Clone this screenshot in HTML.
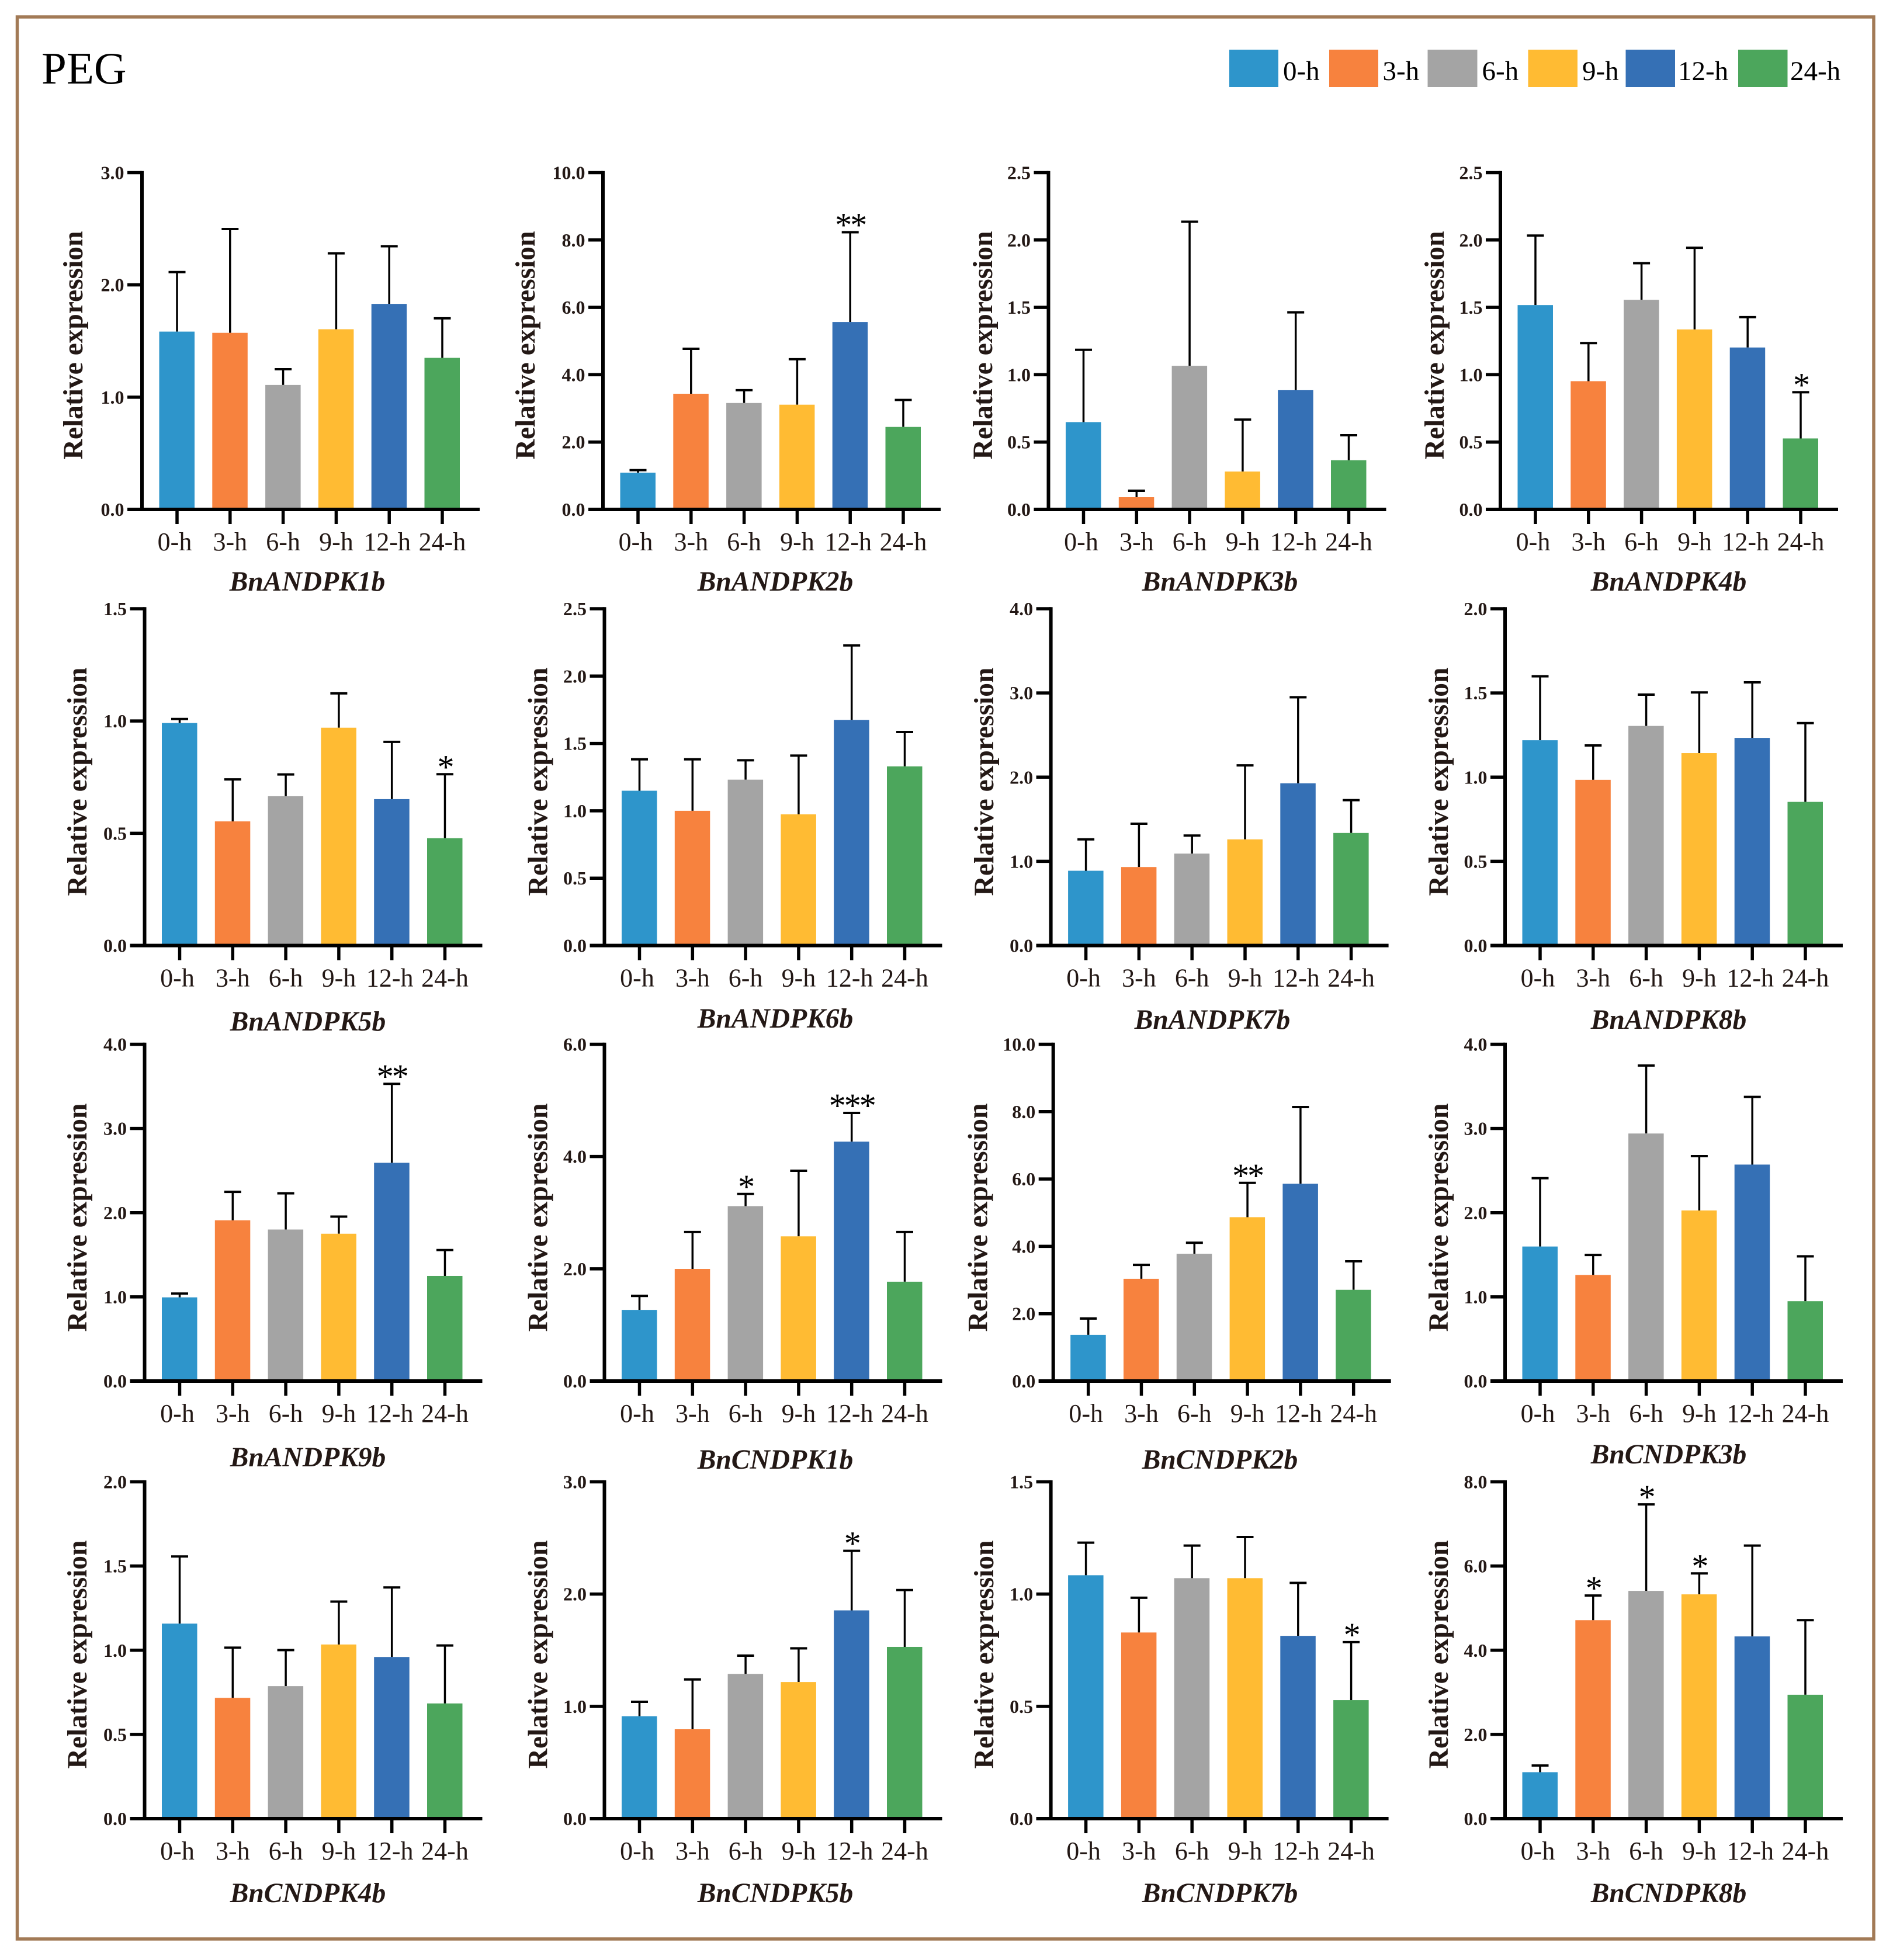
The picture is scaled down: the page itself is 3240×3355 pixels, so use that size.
<!DOCTYPE html>
<html lang="en">
<head>
<meta charset="utf-8">
<title>PEG relative expression</title>
<style>
html,body{margin:0;padding:0;background:#fff;}
svg{display:block;font-family:"Liberation Serif",serif;}
</style>
</head>
<body>
<svg id="figure" xmlns="http://www.w3.org/2000/svg" width="3240" height="3355" viewBox="0 0 3240 3355">
  <rect x="0" y="0" width="3240" height="3355" fill="#ffffff"/>
  <rect x="29.5" y="29" width="3177.5" height="3290" fill="none" stroke="#A27A56" stroke-width="5.5"/>
  <text x="71" y="143" font-size="77" fill="#000">PEG</text>
  <g font-size="47" fill="#000">
    <g><rect x="2104" y="85" width="84" height="64" fill="#2E95CB"/><text x="2196" y="137">0-h</text></g>
    <g><rect x="2275" y="85" width="84" height="64" fill="#F7823E"/><text x="2366.5" y="137">3-h</text></g>
    <g><rect x="2443.5" y="85" width="85" height="64" fill="#A4A4A4"/><text x="2536.5" y="137">6-h</text></g>
    <g><rect x="2615.5" y="85" width="84.5" height="64" fill="#FFBB33"/><text x="2708" y="137">9-h</text></g>
    <g><rect x="2782.5" y="85" width="84.5" height="64" fill="#3570B5"/><text x="2872" y="137">12-h</text></g>
    <g><rect x="2975" y="85" width="84.5" height="64" fill="#4CA65C"/><text x="3064" y="137">24-h</text></g>
  </g>
</svg>
<script>
// ---------- chart data ----------
const categories = ["0-h", "3-h", "6-h", "9-h", "12-h", "24-h"];
const geneNames = ["BnANDPK1b","BnANDPK2b","BnANDPK3b","BnANDPK4b","BnANDPK5b","BnANDPK6b","BnANDPK7b","BnANDPK8b","BnANDPK9b","BnCNDPK1b","BnCNDPK2b","BnCNDPK3b","BnCNDPK4b","BnCNDPK5b","BnCNDPK7b","BnCNDPK8b"];

const ticksA1 = ["0.0","1.0","2.0","3.0"];
const ticksA2 = ["0.0","2.0","4.0","6.0","8.0","10.0"];
const ticksA3 = ["0.0","0.5","1.0","1.5","2.0","2.5"];
const ticksA4 = ["0.0","0.5","1.0","1.5","2.0","2.5"];
const ticksA5 = ["0.0","0.5","1.0","1.5"];
const ticksA6 = ["0.0","0.5","1.0","1.5","2.0","2.5"];
const ticksA7 = ["0.0","1.0","2.0","3.0","4.0"];
const ticksA8 = ["0.0","0.5","1.0","1.5","2.0"];
const ticksA9 = ["0.0","1.0","2.0","3.0","4.0"];
const ticksC1 = ["0.0","2.0","4.0","6.0"];
const ticksC2 = ["0.0","2.0","4.0","6.0","8.0","10.0"];
const ticksC3 = ["0.0","1.0","2.0","3.0","4.0"];
const ticksC4 = ["0.0","0.5","1.0","1.5","2.0"];
const ticksC5 = ["0.0","1.0","2.0","3.0"];
const ticksC7 = ["0.0","0.5","1.0","1.5"];
const ticksC8 = ["0.0","2.0","4.0","6.0","8.0"];

const meanA1 = [1.584,1.573,1.109,1.605,1.831,1.350];
const upperA1 = [2.114,2.498,1.249,2.281,2.344,1.702];
const meanA2 = [1.09,3.435,3.16,3.11,5.566,2.45];
const upperA2 = [1.166,4.77,3.54,4.46,8.23,3.25];
const meanA3 = [0.648,0.091,1.066,0.281,0.885,0.365];
const upperA3 = [1.185,0.139,2.136,0.667,1.463,0.551];
const meanA4 = [1.517,0.952,1.556,1.336,1.202,0.527];
const upperA4 = [2.033,1.235,1.828,1.942,1.427,0.870];
const meanA5 = [0.991,0.553,0.665,0.970,0.652,0.478];
const upperA5 = [1.009,0.74,0.762,1.123,0.907,0.763];
const meanA6 = [1.149,1.0,1.231,0.974,1.675,1.33];
const upperA6 = [1.382,1.382,1.375,1.41,2.228,1.585];
const meanA7 = [0.888,0.932,1.092,1.261,1.927,1.337];
const upperA7 = [1.261,1.447,1.306,2.14,2.949,1.727];
const meanA8 = [1.219,0.984,1.304,1.143,1.233,0.853];
const upperA8 = [1.599,1.188,1.49,1.503,1.563,1.321];
const meanA9 = [0.994,1.909,1.80,1.75,2.592,1.249];
const upperA9 = [1.039,2.247,2.23,1.953,3.53,1.556];
const meanC1 = [1.268,1.998,3.116,2.578,4.265,1.77];
const upperC1 = [1.517,2.655,3.333,3.747,4.777,2.655];
const meanC2 = [1.372,3.037,3.78,4.866,5.858,2.71];
const upperC2 = [1.855,3.45,4.107,5.884,8.136,3.555];
const meanC3 = [1.598,1.26,2.94,2.026,2.571,0.949];
const upperC3 = [2.409,1.498,3.748,2.671,3.375,1.481];
const meanC4 = [1.158,0.717,0.787,1.034,0.96,0.684];
const upperC4 = [1.557,1.015,1.001,1.289,1.373,1.028];
const meanC5 = [0.912,0.796,1.289,1.217,1.855,1.53];
const upperC5 = [1.041,1.24,1.452,1.517,2.385,2.036];
const meanC7 = [1.084,0.829,1.071,1.071,0.814,0.528];
const upperC7 = [1.229,0.984,1.216,1.254,1.05,0.786];
const meanC8 = [1.103,4.714,5.41,5.327,4.328,2.943];
const upperC8 = [1.261,5.30,7.464,5.824,6.486,4.714];

const sigA2 = ["","","","","**",""];
const sigA4 = ["","","","","","*"];
const sigA5 = ["","","","","","*"];
const sigA9 = ["","","","","**",""];
const sigC1 = ["","","*","","***",""];
const sigC2 = ["","","","**","",""];
const sigC5 = ["","","","","*",""];
const sigC7 = ["","","","","","*"];
const sigC8 = ["","*","*","*","",""];
const sigNone = ["","","","","",""];

const tickSeries = [ticksA1,ticksA2,ticksA3,ticksA4,ticksA5,ticksA6,ticksA7,ticksA8,ticksA9,ticksC1,ticksC2,ticksC3,ticksC4,ticksC5,ticksC7,ticksC8];
const meanSeries = [meanA1,meanA2,meanA3,meanA4,meanA5,meanA6,meanA7,meanA8,meanA9,meanC1,meanC2,meanC3,meanC4,meanC5,meanC7,meanC8];
const upperSeries = [upperA1,upperA2,upperA3,upperA4,upperA5,upperA6,upperA7,upperA8,upperA9,upperC1,upperC2,upperC3,upperC4,upperC5,upperC7,upperC8];
const sigSeries = [sigNone,sigA2,sigNone,sigA4,sigA5,sigNone,sigNone,sigNone,sigA9,sigC1,sigC2,sigNone,sigNone,sigC5,sigC7,sigC8];

// ---------- layout and drawing ----------
function panelLayout(i) {
  const axisXs = [243,1032,1794.5,2568, 247.5,1034.5,1798.6,2576, 247.5,1034.5,1802.7,2576, 247.5,1034.5,1798.6,2576];
  const rowTops = [295.5,1042,1787.5,2536.5];
  const yTitleXs = [141,915,1698,2471, 148,936.5,1700,2478, 148,936.5,1689.5,2478, 148,936.5,1700,2478];
  const yTitleYs = [591,1338,2084,2832];
  const geneXs = [526,1327,2088,2856, 527,1327,2075,2856, 527,1327,2088,2856, 527,1327,2088,2856];
  const geneYs = [1011,1011,1011,1011, 1764,1759,1761,1761, 2510,2514,2514,2505, 3256,3256,3256,3256];
  const row = Math.floor(i / 4);
  return {
    axisX: axisXs[i], top: rowTops[row], bottom: rowTops[row] + 576.5,
    yTitleX: yTitleXs[i], yTitleY: yTitleYs[row], geneX: geneXs[i], geneY: geneYs[i]
  };
}

const NS = "http://www.w3.org/2000/svg";
const INK = "#231815";
const barColors = ["#2E95CB","#F7823E","#A4A4A4","#FFBB33","#3570B5","#4CA65C"];
const labelShift = [-4,0,0,0,-3.5,0];
const figure = document.getElementById("figure");

function svgEl(tag, attrs, parent) {
  const el = document.createElementNS(NS, tag);
  for (const k in attrs) el.setAttribute(k, attrs[k]);
  parent.appendChild(el);
  return el;
}

function drawPanel(i) {
  const L = panelLayout(i);
  const ticks = tickSeries[i];
  const means = meanSeries[i];
  const uppers = upperSeries[i];
  const sigs = sigSeries[i];
  const yMax = parseFloat(ticks[ticks.length - 1]);
  const yScale = v => L.bottom - (v / yMax) * (L.bottom - L.top);
  const xScale = c => L.axisX + 60 + 90.8 * c;

  const g = svgEl("g", {}, figure);
  
  

  categories.forEach((cat, c) => {
    const cx = xScale(c);
    const stem = svgEl("line", {x1: cx, x2: cx, y1: yScale(uppers[c]), y2: yScale(means[c]), stroke: "#000", "stroke-width": 3.5}, g);
    
    
    const cap = svgEl("line", {x1: cx - 14.5, x2: cx + 14.5, y1: yScale(uppers[c]), y2: yScale(uppers[c]), stroke: "#000", "stroke-width": 4}, g);
    
    
    const bar = svgEl("rect", {x: cx - 30.5, y: yScale(means[c]), width: 60.5, height: L.bottom - yScale(means[c]), fill: barColors[c]}, g);
    
    
    if (sigs[c]) {
      const star = svgEl("text", {x: cx, y: yScale(uppers[c]) + 7, "text-anchor": "middle", "font-size": 58, "letter-spacing": "-3", fill: "#000"}, g);
      star.textContent = sigs[c];
      
      
    }
    const xTick = svgEl("line", {x1: cx, x2: cx, y1: L.bottom, y2: L.bottom + 25, stroke: "#000", "stroke-width": 5.5}, g);
    
    
    const xLabel = svgEl("text", {x: cx + labelShift[c], y: L.bottom + 70, "text-anchor": "middle", "font-size": 44, fill: INK}, g);
    xLabel.textContent = cat;
    
    
  });

  ticks.forEach(t => {
    const v = parseFloat(t);
    const yTick = svgEl("line", {x1: L.axisX - 25, x2: L.axisX, y1: yScale(v), y2: yScale(v), stroke: "#000", "stroke-width": 5.5}, g);
    
    
    const yLabel = svgEl("text", {x: L.axisX - 30.5, y: yScale(v) + 11, "text-anchor": "end", "font-size": 32, "font-weight": "bold", fill: INK}, g);
    yLabel.textContent = t;
    
    
  });

  const yAxis = svgEl("line", {x1: L.axisX, x2: L.axisX, y1: L.top - 2.75, y2: L.bottom + 2.75, stroke: "#000", "stroke-width": 6}, g);
  
  
  const xAxis = svgEl("line", {x1: L.axisX - 25, x2: L.axisX + 578, y1: L.bottom, y2: L.bottom, stroke: "#000", "stroke-width": 6}, g);
  
  

  const yTitle = svgEl("text", {x: 0, y: 0, transform: "translate(" + L.yTitleX + " " + L.yTitleY + ") rotate(-90)", "text-anchor": "middle", "font-size": 47.5, "font-weight": "bold", fill: INK}, g);
  yTitle.textContent = "Relative expression";
  
  

  const gene = svgEl("text", {x: L.geneX, y: L.geneY, "text-anchor": "middle", "font-size": 47.5, "font-weight": "bold", "font-style": "italic", fill: INK}, g);
  gene.textContent = geneNames[i];
  
  
}

geneNames.forEach((_, i) => drawPanel(i));
</script>
</body>
</html>
